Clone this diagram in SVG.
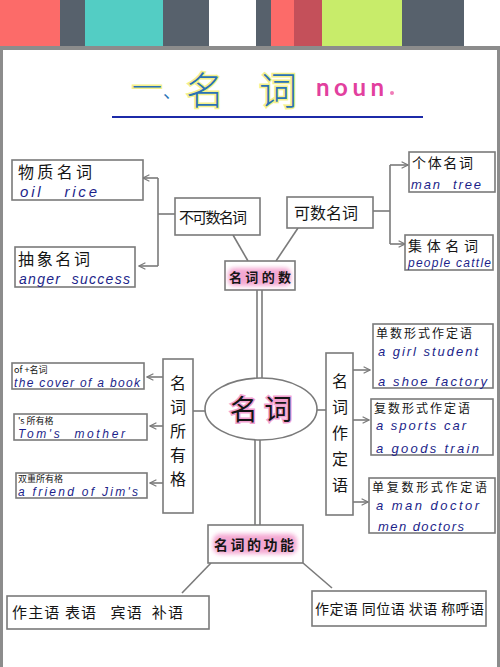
<svg xmlns="http://www.w3.org/2000/svg" width="500" height="667" viewBox="0 0 500 667">
<style>
.box{fill:#fff;stroke:#7a7a7a;stroke-width:1.6}
.ln{fill:none;stroke:#7a7a7a;stroke-width:1.6}
.zh{font-family:"Noto Sans CJK SC","Noto Sans CJK JP",sans-serif;fill:#151515}
.en{font-family:"Liberation Sans","DejaVu Sans",sans-serif;font-style:italic;fill:#1c1f8a}
.hl{fill:#f08cc4;opacity:0.75}
.tt{fill:#2a72b5;stroke:#f4f08a;stroke-width:3;paint-order:stroke}
</style>
<defs>
<marker id="arr" viewBox="0 0 10 10" refX="9" refY="5" markerWidth="8" markerHeight="8" orient="auto" markerUnits="userSpaceOnUse">
<path d="M1,1 L9,5 L1,9" fill="none" stroke="#7a7a7a" stroke-width="1.4"/>
</marker>
<filter id="blur" x="-20%" y="-40%" width="140%" height="180%"><feGaussianBlur stdDeviation="2"/></filter>
</defs>
<rect width="500" height="667" fill="#fff"/>
<g id="banner">
<rect x="0" y="0" width="60" height="46" fill="#fc6b69"/>
<rect x="60" y="0" width="25" height="46" fill="#57616c"/>
<rect x="85" y="0" width="78" height="46" fill="#53cdc4"/>
<rect x="163" y="0" width="46" height="46" fill="#57616c"/>
<rect x="209" y="0" width="47" height="46" fill="#fff"/>
<rect x="256" y="0" width="15" height="46" fill="#57616c"/>
<rect x="271" y="0" width="23" height="46" fill="#fc6b69"/>
<rect x="294" y="0" width="28" height="46" fill="#c4505a"/>
<rect x="322" y="0" width="80" height="46" fill="#c8ec6a"/>
<rect x="402" y="0" width="62" height="46" fill="#57616c"/>
<rect x="0" y="46" width="500" height="4" fill="#8c8c8c"/>
<rect x="0" y="46" width="3" height="621" fill="#8c8c8c"/>
<rect x="497" y="46" width="3" height="621" fill="#8c8c8c"/>
</g>
<g id="title">
<text x="132" y="98" class="zh tt" font-size="30" font-weight="300">一</text>
<text x="163" y="98" class="zh" font-size="18" style="fill:#2a72b5">、</text>
<text x="186" y="104" class="zh tt" font-size="38" font-weight="300">名</text>
<text x="259" y="104" class="zh tt" font-size="38" font-weight="300">词</text>
<text x="316" y="96" font-family="Lato,'Liberation Sans',sans-serif" font-size="24" font-weight="bold" fill="#e2409e" textLength="68" lengthAdjust="spacing">noun</text>
<circle cx="392" cy="93" r="2" fill="#f07cb8"/>
<line x1="112" y1="117" x2="423" y2="117" stroke="#1c2aa8" stroke-width="2"/>
</g>
<g id="connectors">
<polyline class="ln" points="175,214 158,214"/>
<polyline class="ln" points="158,178 158,266"/>
<line class="ln" x1="158" y1="178" x2="143" y2="178" marker-end="url(#arr)"/>
<line class="ln" x1="158" y1="266" x2="139" y2="266" marker-end="url(#arr)"/>
<polyline class="ln" points="373,211 390,211"/>
<polyline class="ln" points="390,165 390,244"/>
<line class="ln" x1="390" y1="165" x2="408" y2="165" marker-end="url(#arr)"/>
<line class="ln" x1="390" y1="244" x2="405" y2="244" marker-end="url(#arr)"/>
<line class="ln" x1="233" y1="235" x2="248" y2="261"/>
<line class="ln" x1="298" y1="228" x2="276" y2="261"/>
<line class="ln" x1="257" y1="290" x2="257" y2="379"/>
<line class="ln" x1="262" y1="290" x2="262" y2="378"/>
<line class="ln" x1="193" y1="411" x2="205" y2="411"/>
<line class="ln" x1="163" y1="377" x2="147" y2="377" marker-end="url(#arr)"/>
<line class="ln" x1="163" y1="426" x2="150" y2="426" marker-end="url(#arr)"/>
<line class="ln" x1="163" y1="483" x2="150" y2="483" marker-end="url(#arr)"/>
<line class="ln" x1="317" y1="410" x2="326" y2="410"/>
<line class="ln" x1="353" y1="370" x2="370" y2="370" marker-end="url(#arr)"/>
<line class="ln" x1="353" y1="420" x2="369" y2="420" marker-end="url(#arr)"/>
<line class="ln" x1="353" y1="502" x2="368" y2="502" marker-end="url(#arr)"/>
<line class="ln" x1="255" y1="440" x2="255" y2="525"/>
<line class="ln" x1="260" y1="440" x2="260" y2="525"/>
<line class="ln" x1="211" y1="563" x2="182" y2="593"/>
<line class="ln" x1="303" y1="563" x2="332" y2="588"/>
</g>
<g id="n-wuzhi">
<rect class="box" x="12" y="160" width="131" height="40"/>
<text class="zh" x="18" y="178" font-size="16" textLength="74" lengthAdjust="spacing">物质名词</text>
<text class="en" x="20" y="197" font-size="15" xml:space="preserve" textLength="77" lengthAdjust="spacing">oil   rice</text>
</g>
<g id="n-chouxiang">
<rect class="box" x="15" y="247" width="120" height="40"/>
<text class="zh" x="18" y="265" font-size="16" textLength="72" lengthAdjust="spacing">抽象名词</text>
<text class="en" x="19" y="284" font-size="14" xml:space="preserve" textLength="111" lengthAdjust="spacing">anger  success</text>
</g>
<g id="n-bukeshu">
<rect class="box" x="175" y="198" width="85" height="37"/>
<text class="zh" x="179" y="223" font-size="15" textLength="68" lengthAdjust="spacing">不可数名词</text>
</g>
<g id="n-keshu">
<rect class="box" x="287" y="197" width="86" height="31"/>
<text class="zh" x="294" y="219" font-size="16" textLength="64" lengthAdjust="spacing">可数名词</text>
</g>
<g id="n-geti">
<rect class="box" x="409" y="152" width="86" height="40"/>
<text class="zh" x="412" y="168" font-size="14" textLength="61" lengthAdjust="spacing">个体名词</text>
<text class="en" x="411" y="189" font-size="13" xml:space="preserve" textLength="70" lengthAdjust="spacing">man  tree</text>
</g>
<g id="n-jiti">
<rect class="box" x="405" y="235" width="88" height="35"/>
<text class="zh" x="408" y="251" font-size="14" textLength="70" lengthAdjust="spacing">集体名词</text>
<text class="en" x="408" y="267" font-size="12" textLength="83" lengthAdjust="spacing">people cattle</text>
</g>
<g id="n-shu">
<rect class="box" x="225" y="261" width="70" height="29"/>
<rect class="hl" x="228" y="268" width="63" height="18" rx="6" filter="url(#blur)"/>
<text class="zh" x="229" y="282" font-size="13" font-weight="bold" textLength="62" lengthAdjust="spacing">名词的数</text>
</g>
<g id="n-mingci">
<ellipse cx="261" cy="409" rx="56" ry="31" fill="#fff" stroke="#7a7a7a" stroke-width="1.6"/>
<text class="zh" x="261" y="420" font-size="28" text-anchor="middle" xml:space="preserve" style="stroke:#f2a0d0;stroke-width:3;paint-order:stroke">名 词</text>
</g>
<g id="n-suoyouge">
<rect class="box" x="163" y="359" width="30" height="154"/>
<text class="zh" x="178" font-size="16" text-anchor="middle"><tspan x="178" y="389">名</tspan><tspan x="178" y="413">词</tspan><tspan x="178" y="437">所</tspan><tspan x="178" y="461">有</tspan><tspan x="178" y="485">格</tspan></text>
</g>
<g id="n-of">
<rect class="box" x="12" y="363" width="132" height="26"/>
<text class="zh" x="14" y="373" font-size="9" xml:space="preserve">of +名词</text>
<text class="en" x="14" y="387" font-size="12" textLength="126" lengthAdjust="spacing">the cover of a book</text>
</g>
<g id="n-s">
<rect class="box" x="14" y="414" width="133" height="26"/>
<text class="zh" x="18" y="424" font-size="9" xml:space="preserve">'s 所有格</text>
<text class="en" x="18" y="438" font-size="12" xml:space="preserve" textLength="107" lengthAdjust="spacing">Tom's  mother</text>
</g>
<g id="n-shuangchong">
<rect class="box" x="16" y="473" width="131" height="25"/>
<text class="zh" x="18" y="482" font-size="9">双重所有格</text>
<text class="en" x="18" y="496" font-size="12" textLength="120" lengthAdjust="spacing">a friend of Jim's</text>
</g>
<g id="n-zuodingyu">
<rect class="box" x="326" y="353" width="27" height="162"/>
<text class="zh" x="340" font-size="16" text-anchor="middle"><tspan x="340" y="387">名</tspan><tspan x="340" y="413">词</tspan><tspan x="340" y="439">作</tspan><tspan x="340" y="465">定</tspan><tspan x="340" y="491">语</tspan></text>
</g>
<g id="n-danshu">
<rect class="box" x="373" y="324" width="120" height="64"/>
<text class="zh" x="376" y="338" font-size="12" textLength="96" lengthAdjust="spacing">单数形式作定语</text>
<text class="en" x="378" y="356" font-size="13" textLength="100" lengthAdjust="spacing">a girl student</text>
<text class="en" x="378" y="386" font-size="13" textLength="109" lengthAdjust="spacing">a shoe factory</text>
</g>
<g id="n-fushu">
<rect class="box" x="371" y="399" width="122" height="56"/>
<text class="zh" x="374" y="413" font-size="12" textLength="96" lengthAdjust="spacing">复数形式作定语</text>
<text class="en" x="376" y="430" font-size="13" textLength="90" lengthAdjust="spacing">a sports car</text>
<text class="en" x="376" y="453" font-size="13" textLength="103" lengthAdjust="spacing">a goods train</text>
</g>
<g id="n-danfushu">
<rect class="box" x="369" y="478" width="126" height="55"/>
<text class="zh" x="372" y="492" font-size="12" textLength="115" lengthAdjust="spacing">单复数形式作定语</text>
<text class="en" x="376" y="510" font-size="13" textLength="103" lengthAdjust="spacing">a man doctor</text>
<text class="en" x="378" y="531" font-size="13" textLength="86" lengthAdjust="spacing">men doctors</text>
</g>
<g id="n-gongneng">
<rect class="box" x="208" y="525" width="95" height="38"/>
<rect class="hl" x="213" y="534" width="84" height="20" rx="7" filter="url(#blur)"/>
<text class="zh" x="214" y="550" font-size="14" font-weight="bold" textLength="80" lengthAdjust="spacing">名词的功能</text>
</g>
<g id="n-left-bottom">
<rect class="box" x="7" y="596" width="202" height="33"/>
<text class="zh" x="12" y="618" font-size="15" xml:space="preserve" textLength="171" lengthAdjust="spacing">作主语 表语   宾语  补语</text>
</g>
<g id="n-right-bottom">
<rect class="box" x="312" y="591" width="174" height="35"/>
<text class="zh" x="315" y="614" font-size="14" xml:space="preserve" textLength="169" lengthAdjust="spacing">作定语 同位语 状语 称呼语</text>
</g>
</svg>
